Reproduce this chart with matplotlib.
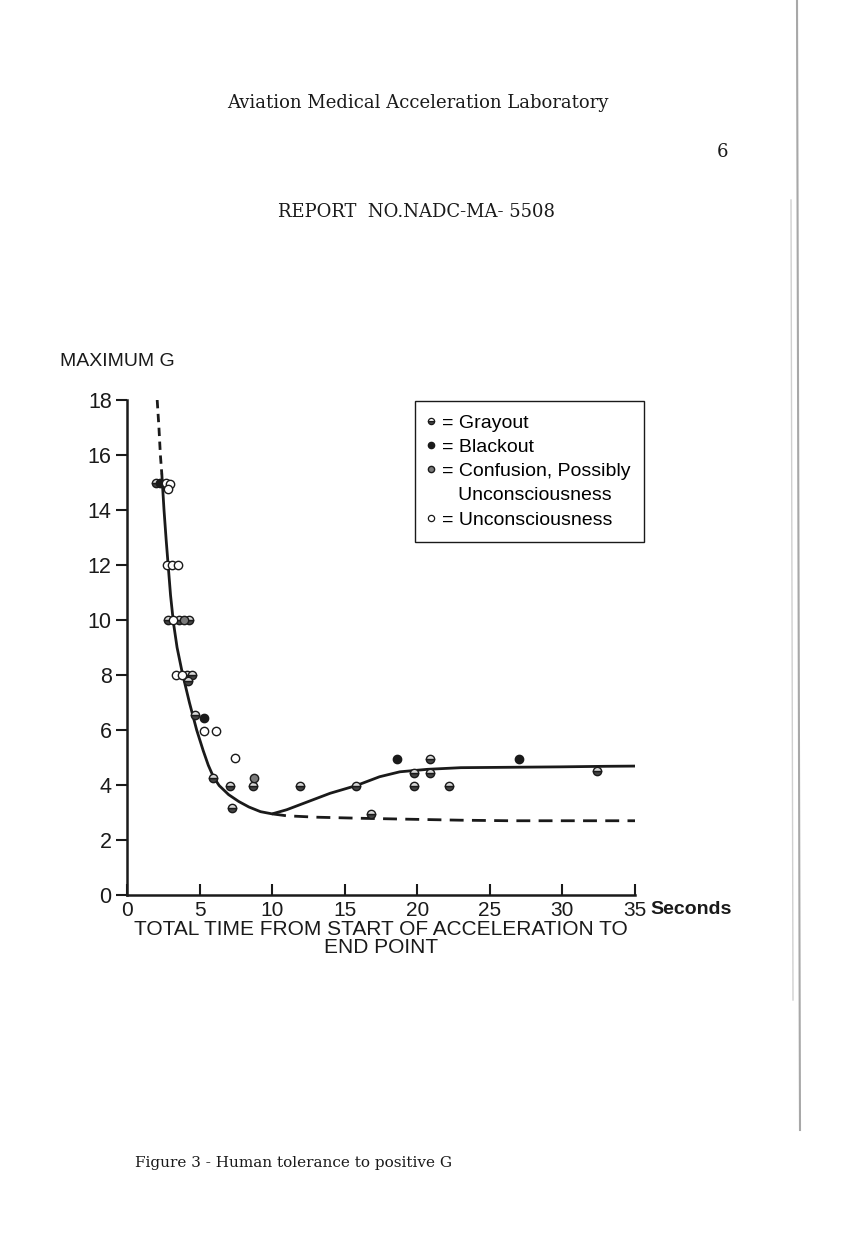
import matplotlib
matplotlib.use('Agg')
import matplotlib.pyplot as plt
from matplotlib.lines import Line2D

# --- Datos (tiempo en s, G maxima) ---
gray_t = [2.0, 2.8, 3.6, 4.3, 4.1, 4.5, 4.2, 4.7, 5.9, 7.1, 7.25, 8.7, 11.9,
          15.8, 16.8, 19.75, 22.2, 19.8, 20.9, 20.9, 32.4]
gray_g = [15.0, 10.0, 10.0, 10.0, 8.0, 8.0, 7.8, 6.55, 4.25, 3.95, 3.15, 3.95, 3.95,
          3.97, 2.93, 3.95, 3.95, 4.45, 4.45, 4.95, 4.5]

black_t = [2.3, 5.3, 18.6, 27.0]
black_g = [15.0, 6.45, 4.95, 4.96]

conf_t = [3.95, 8.74]
conf_g = [10.0, 4.25]

uncon_t = [2.7, 2.95, 2.8, 2.75, 3.1, 3.5, 3.2, 3.4, 3.77, 5.3, 6.1, 7.45]
uncon_g = [15.0, 14.95, 14.75, 12.0, 12.0, 12.0, 10.0, 8.0, 8.0, 5.95, 5.95, 4.97]

# curva continua
curve_t = [2.4, 2.55, 2.7, 2.85, 3.0, 3.2, 3.45, 3.8, 4.3, 4.8, 5.25, 5.6, 5.95, 6.35,
           7.0, 7.7, 8.4, 9.2, 10.0, 11.0, 12.5, 14.0, 15.8, 17.4, 18.8, 20.7, 23.0,
           25.3, 29.9, 33.0, 35.5]
curve_g = [15.3, 14.0, 12.9, 11.9, 10.9, 9.9, 9.0, 8.1, 7.0, 6.0, 5.25, 4.72, 4.3, 3.98,
           3.65, 3.4, 3.2, 3.03, 2.95, 3.1, 3.4, 3.7, 3.98, 4.3, 4.48, 4.57, 4.63,
           4.64, 4.66, 4.68, 4.69]

# curva discontinua (arriba y abajo)
dash_top_t = [2.08, 2.2, 2.3, 2.4]
dash_top_g = [18.0, 17.0, 16.0, 15.3]
dash_low_t = [10.0, 11.0, 13.0, 16.1, 20.0, 23.0, 26.4, 30.0, 35.8]
dash_low_g = [2.95, 2.88, 2.83, 2.79, 2.75, 2.72, 2.70, 2.70, 2.70]

xticks = [0, 5, 10, 15, 20, 25, 30, 35]
yticks = [0, 2, 4, 6, 8, 10, 12, 14, 16, 18]

ink = '#1a1a1a'
sans = 'Liberation Sans'
serif = 'DejaVu Serif'

fig = plt.figure(figsize=(8.41, 12.43), dpi=100)
fig.patch.set_facecolor('white')
ax = fig.add_axes([127 / 841, 1 - 895 / 1243, 508 / 841, 495 / 1243])

# curvas
ax.plot(curve_t, curve_g, color=ink, lw=2.0, solid_capstyle='round',
        solid_joinstyle='round')
ax.plot(dash_top_t, dash_top_g, color=ink, lw=2.0, dashes=(3, 2))
ax.plot(dash_low_t, dash_low_g, color=ink, lw=2.0, dashes=(5, 3))

# puntos
ms = 6
ax.plot(gray_t, gray_g, 'o', ms=ms, mec=ink, mew=1.0, fillstyle='bottom',
        mfc='#444444', markerfacecoloralt='#d8d8d8', zorder=3)
ax.plot(black_t, black_g, 'o', ms=ms, mec=ink, mfc=ink, mew=1.0, zorder=3)
ax.plot(conf_t, conf_g, 'o', ms=ms, mec=ink, mfc='#7a7a7a', mew=1.0, zorder=3)
ax.plot(uncon_t, uncon_g, 'o', ms=ms, mec=ink, mfc='white', mew=1.0, zorder=3)

# ejes
ax.set_xlim(0, 35)
ax.set_ylim(0, 18)
for s in ['top', 'right']:
    ax.spines[s].set_visible(False)
for s in ['left', 'bottom']:
    ax.spines[s].set_linewidth(1.8)
    ax.spines[s].set_color(ink)
ax.set_xticks(xticks)
ax.set_yticks(yticks)
ax.set_xticklabels([str(v) for v in xticks], fontsize=15, family=sans, color=ink)
ax.set_yticklabels([str(v) for v in yticks], fontsize=15.5, family=sans, color=ink)
ax.tick_params(axis='x', direction='in', length=8, width=1.5, pad=4, colors=ink)
ax.tick_params(axis='y', direction='out', length=8, width=1.5, pad=3, colors=ink)
ax.set_xlabel('TOTAL TIME FROM START OF ACCELERATION TO\nEND POINT',
              fontsize=15, family=sans, color=ink, linespacing=0.95, labelpad=0)
ax.text(1.03, -0.03, 'Seconds', transform=ax.transAxes, fontsize=14,
        fontweight='bold', family=sans, color=ink, ha='left', va='center')
fig.text(60 / 841, 1 - 362 / 1243, 'MAXIMUM G', fontsize=14, family=sans,
         color=ink, ha='left', va='center')

# leyenda
h_gray = Line2D([], [], ls='none', marker='o', ms=4.5, mec=ink, mew=0.9,
                fillstyle='bottom', mfc='#444444', markerfacecoloralt='white')
h_black = Line2D([], [], ls='none', marker='o', ms=4.5, mec=ink, mfc=ink)
h_conf = Line2D([], [], ls='none', marker='o', ms=4.5, mec=ink, mfc='#7a7a7a')
h_blank = Line2D([], [], ls='none')
h_uncon = Line2D([], [], ls='none', marker='o', ms=4.5, mec=ink, mfc='white', mew=0.9)
leg = ax.legend([h_gray, h_black, h_conf, h_blank, h_uncon],
                ['= Grayout', '= Blackout', '= Confusion, Possibly',
                 '   Unconsciousness', '= Unconsciousness'],
                loc='upper left', bbox_to_anchor=(0.567, 0.998), borderaxespad=0,
                prop={'family': sans, 'size': 14.0}, handlelength=0.25,
                handletextpad=0.45, labelspacing=0.34, borderpad=0.68,
                fancybox=False, framealpha=1, edgecolor=ink)
leg.get_frame().set_linewidth(1.0)

# textos de la pagina
fig.text(418 / 841, 1 - 103 / 1243, 'Aviation Medical Acceleration Laboratory',
         fontsize=13, family=serif, color=ink, ha='center', va='center')
fig.text(723 / 841, 1 - 152 / 1243, '6', fontsize=13, family=serif,
         color=ink, ha='center', va='center')
fig.text(417 / 841, 1 - 212 / 1243, 'REPORT  NO.NADC-MA- 5508', fontsize=13,
         family=serif, color=ink, ha='center', va='center')
fig.text(135 / 841, 1 - 1163 / 1243, 'Figure 3 - Human tolerance to positive G',
         fontsize=11, family=serif, color=ink, ha='left', va='center')

# borde del escaneo
fig.add_artist(Line2D([797 / 841, 800 / 841], [1.0, 1 - 1130 / 1243],
                      color='#a8a8a8', lw=1.5, transform=fig.transFigure))
fig.add_artist(Line2D([791 / 841, 793 / 841], [1 - 200 / 1243, 1 - 1000 / 1243],
                      color='#d0d0d0', lw=1.0, transform=fig.transFigure))

fig.savefig('out.png', dpi=100)
